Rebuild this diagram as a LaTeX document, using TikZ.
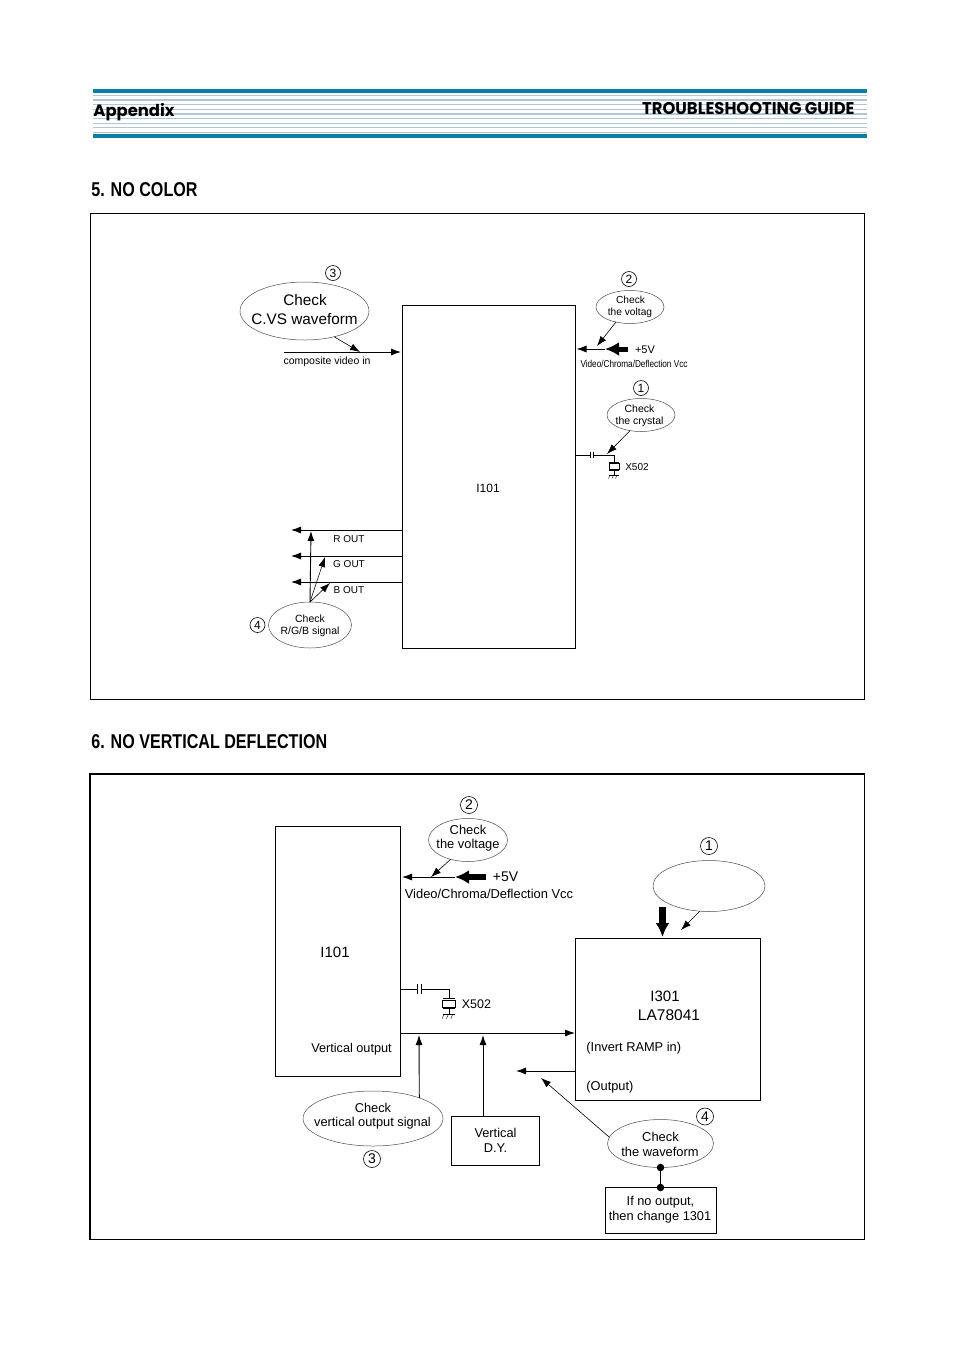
\documentclass[tikz,border=0pt]{standalone}
\usepackage{fontspec}
\setmainfont{Liberation Sans}
\newfontfamily\headfont{Poppins}
\usetikzlibrary{arrows.meta, shapes.geometric, positioning}
\definecolor{stripe}{RGB}{176,198,214}
\definecolor{teal}{RGB}{8,128,164}
\newcommand{\fs}[1]{\fontsize{#1}{#1}\selectfont}

\begin{document}
\begin{tikzpicture}[x=1pt, y=-1pt, line width=.9pt,
    block/.style={draw, rectangle, inner sep=0pt, outer sep=0pt},
    bubble/.style={draw=black!70, line width=.5pt, ellipse, inner sep=0pt, outer sep=0pt},
    num/.style={draw, circle, line width=.6pt, inner sep=0pt, minimum size=#1pt},
    lab/.style={inner sep=0pt, yshift=-1pt, align=center, font=\fs{#1}},
    arr/.style={-{Latex[length=10pt,width=7pt]}},
    fat/.style={line width=#1pt, -{Latex[length=14pt,width=14pt]}},
    dot/.style={draw, fill, circle, inner sep=0pt, minimum size=6.5pt}]

    \useasboundingbox (0,0) rectangle (954,1350);

    % page header
    \foreach \ystripe in {95.3,100,104.7,109.3,114,118.7,123.3,127.7,132.3}
    \draw [stripe, line width=1.2pt] (93, \ystripe) -- (867, \ystripe);
    \fill [teal] (93,89) rectangle (867,92.5);
    \fill [teal] (93,134) rectangle (867,138);
    \node (appendix) [anchor=west, inner sep=0pt, font=\headfont\bfseries\fs{16.4}] at (93,112.5) {Appendix};
    \node (guide) [anchor=east, inner sep=0pt, xscale=.963, font=\headfont\bfseries\fs{17}] at (855,109) {TROUBLESHOOTING GUIDE};
    \foreach \yhead / \wsec / \head in {189.5/noco/{5. NO COLOR}, 742/novd/{6. NO VERTICAL DEFLECTION}}
    \node (\wsec) [anchor=west, inner sep=0pt, xscale=.805, font=\bfseries\fs{20}] at (91,\yhead) {\head};

    % frames
    \draw (90,213.5) rectangle (864.5,699.5);
    \draw [line width=1.2pt] (90,774) rectangle (864.5,1239.5);

    % blocks
    \node (ica) [block, minimum width=173pt, minimum height=343pt] at (489,476.5) {};
    \node (icb) [block, minimum width=125pt, minimum height=250pt] at (338,951.5) {};
    \node (lar) [block, minimum width=185pt, minimum height=162pt] at (668,1019.5) {};
    \node (dyo) [block, minimum width=88pt, minimum height=49pt] at (495.5,1141) {};
    \node (chg) [block, minimum width=111pt, minimum height=46pt] at (661,1210.5) {};

    % check bubbles
    \node (cvs) [bubble, minimum width=129pt, minimum height=58pt] at (304.5,311) {};
    \node (vola) [bubble, minimum width=68pt, minimum height=33pt] at (630,307) {};
    \node (xtal) [bubble, minimum width=68pt, minimum height=33pt] at (641,415) {};
    \node (rgb) [bubble, minimum width=83pt, minimum height=46pt] at (310,625) {};
    \node (volb) [bubble, minimum width=79pt, minimum height=43pt] at (468,840) {};
    \node (ramp) [bubble, minimum width=112pt, minimum height=51pt] at (709,886) {};
    \node (vop) [bubble, minimum width=140pt, minimum height=55pt] at (373,1118.5) {};
    \node (wave) [bubble, minimum width=106pt, minimum height=48pt] at (660.5,1143.5) {};

    % step numbers
    \foreach \nname / \xnum / \ynum / \dnum / \snum / \tnum in {na/333/273/15/12/3, nb/629/279/15/12/2, nc/641/388/15/12/1, nd/257.5/625/15/12/4, ne/469/805/17/14/2, nf/709/846/17/14/1, ng/372/1159/17/14/3, nh/705/1116.5/17/14/4}
    \node (\nname) [num=\dnum, font=\fs{\snum}] at (\xnum,\ynum) {\tnum};

    % labels
    \foreach \lname / \xlab / \ylab / \slab / \tlab in {
        ta/305/299/15.3/{Check}, tb/304.5/318/15.3/{C.VS waveform},
        tc/630.5/299/10.2/{Check}, td/630/311.5/10.2/{the voltag},
        te/639.5/408/10.5/{Check}, tf/639.5/420.5/10.5/{the crystal},
        tg/310/618/10.5/{Check}, th/310/631/10.5/{R/G/B signal},
        ti/468/829/12.9/{Check}, tj/468/844.5/12.9/{the voltage},
        tk/373/1107/12.8/{Check}, tl/372.5/1122.5/12.8/{vertical output signal},
        tm/660.5/1135.5/12.9/{Check}, tn/660/1150.5/12.9/{the waveform},
        to/495.5/1132/12.8/{Vertical}, tp/495.5/1147/12.8/{D.Y.},
        tq/660.5/1201/12.8/{If no output,}, tr/660/1216.5/12.8/{then change 1301},
        la/327/360.5/10.5/{composite video in}, lb/645/349/11/{+5V}, lc/637/466/10/{X502}, ld/488/487/12/{I101},
        le/349/538/10/{R OUT}, lf/349/563/10/{G OUT}, lg/349/589/10/{B OUT},
        lh/505.5/876/14/{+5V}, li/476.5/1003/12.5/{X502}, lj/335/951/15/{I101}, lk/351.5/1048/12.7/{Vertical output},
        ll/665/995/15/{I301}, lm/669/1014/15.5/{LA78041}}
    \node (\lname) [lab=\slab] at (\xlab,\ylab) {\tlab};
    \node (vcca) [lab=10, xscale=.82] at (634,363) {Video/Chroma/Deflection Vcc};
    \node (vccb) [lab=12.9] at (489,893) {Video/Chroma/Deflection Vcc};
    \node (inv) [lab=12.8, anchor=west] at (586,1047) {(Invert RAMP in)};
    \node (outp) [lab=12.8, anchor=west] at (586,1086) {(Output)};

    % free ends of the connectors
    \foreach \cname / \xc / \yc in {cvsa/360/352, cvsb/284/352, cvsc/401/352, vabl/597/346, vcaa/576.5/349, vcab/605/349, vcac/628/349,
        xtip/607/454, ra/291/530, ga/291/556, ba/291/582, rt/311/531, gt/325/557, bt/330/583,
        vbbl/431/877, vbaa/402/877, vbab/455/877, vbac/486/877,
        rfa/662.5/937, rfb/662.5/907, rta/681/930,
        busa/400.5/1033, busb/575/1033, upa/419/1035, upb/483/1035,
        outa/575/1071, outb/516/1071, outc/541/1078}
    \coordinate (\cname) at (\xc,\yc);

    % first chart
    \draw [arr, line width=.6pt] (cvs.-41) -- (cvsa);
    \draw [arr] (cvsb) -- (cvsc);
    \draw [arr, line width=.6pt] (vola.-133) -- (vabl);
    \draw [arr] (vcab) -- (vcaa);
    \draw [fat=5] (vcac) -- (vcab);
    \draw [arr, line width=.6pt] (xtal.-125) -- (xtip);
    \foreach \yrow / \tipa in {530/ra, 556/ga, 582/ba}
    \draw [arr] (ica.west |- 0,\yrow) -- (\tipa);
    \draw [arr] (rgb.north) -- (rt);
    \draw [arr, line width=.6pt] (rgb.north) -- (gt);
    \draw [arr, line width=.6pt] (rgb.north) -- (bt);

    % capacitor and crystal
    \foreach \xwire / \xplate / \dplate / \xcry / \ywire / \scry in {576/590/3/614/455/1, 401/417/4.4/449/989.3/1.25} {
    \draw (\xwire,\ywire) -- (\xplate,\ywire) (\xplate+\dplate,\ywire) -- (\xcry,\ywire) -- ++(0,7.4*\scry);
    \draw (\xplate,\ywire-1.1*\dplate) -- ++(0,2.2*\dplate) (\xplate+\dplate,\ywire-1.1*\dplate) -- ++(0,2.2*\dplate);
    \begin{scope}[shift={(\xcry,\ywire)}, scale=\scry]
        \draw (-5,7.4) -- (5,7.4) (-5,15.6) -- (5,15.6) (0,15.6) -- (0,20);
        \draw (-5,8.8) rectangle (5,14.2);
        \draw [line width=.5pt] (-5,20) -- (5,20);
        \foreach \xg in {-4,-.5,3} \draw [line width=.4pt] (\xg,20) -- ++(-1.5,3.5);
    \end{scope}}

    % second chart
    \draw [arr, line width=.6pt] (volb.-132) -- (vbbl);
    \draw [arr] (vbab) -- (vbaa);
    \draw [fat=6.5] (vbac) -- (vbab);
    \draw [fat=7] (rfb) -- (rfa);
    \draw [arr, line width=.6pt] (ramp.-110) -- (rta);
    \draw [arr] (busa) -- (busb);
    \draw [arr] (vop.24) -- (upa);
    \draw [arr] (dyo.north -| upb) -- (upb);
    \draw [arr] (outa) -- (outb);
    \draw [arr, line width=.6pt] (wave.173) -- (outc);
    \node (dota) [dot] at (wave.south) {};
    \node (dotb) [dot] at (chg.north -| wave.south) {};
    \draw (dota) -- (dotb);

\end{tikzpicture}
\end{document}
